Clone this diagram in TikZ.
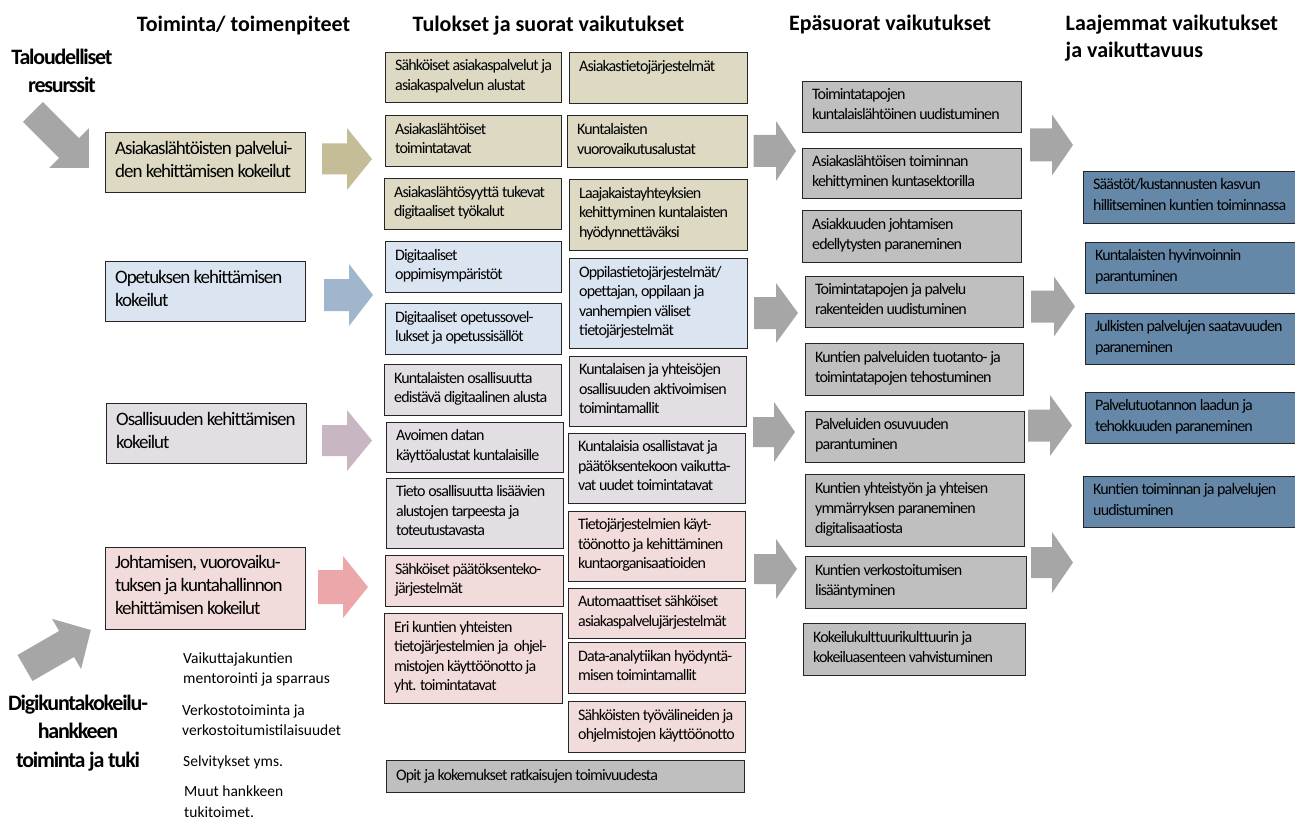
\documentclass[tikz,border=0pt]{standalone}
\usepackage{fontspec}
\setmainfont{Carlito}[LetterSpace=-5.5]
\newfontfamily\natfont{Carlito}
\definecolor{tanbox}{HTML}{DDD9C3}
\definecolor{tanarr}{HTML}{C4BD97}
\definecolor{bluebox}{HTML}{DBE5F1}
\definecolor{bluearr}{HTML}{9FB6CC}
\definecolor{mauvebox}{HTML}{E3DEE3}
\definecolor{mauvearr}{HTML}{C8B6C3}
\definecolor{pinkbox}{HTML}{F2DCDB}
\definecolor{pinkarr}{HTML}{EBA7A9}
\definecolor{graybox}{HTML}{BFBFBF}
\definecolor{grayarr}{HTML}{A6A6A6}
\definecolor{steel}{HTML}{6688A8}
\definecolor{edge}{HTML}{262626}
\tikzset{
  rbox/.style={draw=edge, line width=1.3pt, inner sep=0pt, rectangle},
  btxt/.style={fill=none, draw=none, inner sep=0pt, align=left,
    execute at begin node=\strut, execute at end node=\strut},
  cA/.style={font=\fontsize{19}{23}\selectfont},
  cB/.style={font=\fontsize{16}{19.5}\selectfont},
  cC/.style={font=\fontsize{16}{20}\selectfont},
  cD/.style={font=\fontsize{16}{21}\selectfont},
  hdr/.style={inner sep=0pt, font={\natfont\fontsize{22}{27}\selectfont\bfseries}},
  side/.style={inner sep=0pt, align=center, font={\fontsize{22}{28.5}\selectfont\bfseries}},
  small/.style={inner sep=0pt, align=left, font={\natfont\fontsize{15.5}{20.5}\selectfont}},
}
% style, name, x1, y1, x2, y2, text
\newcommand\rb[7]{%
  \pgfmathsetmacro\bw{#5-#3}\pgfmathsetmacro\bh{#6-#4}%
  \node[rbox,#1,minimum width=\bw pt,minimum height=\bh pt,anchor=north west] (#2) at (#3,#4) {};
  \node[#1,btxt,anchor=west] (#2t) at ([xshift=10pt]#2.west) {#7};}
% colour, x1, headbase, tip, yc, shaft half, head half
\newcommand\harr[7]{%
  \fill[#1] (#2,#5-#6) -- (#3,#5-#6) -- (#3,#5-#7) -- (#4,#5) -- (#3,#5+#7) -- (#3,#5+#6) -- (#2,#5+#6) -- cycle;}
\begin{document}
\begin{tikzpicture}[x=1pt,y=-1pt]
\fill[white] (0,0) rectangle (1295,821);
\useasboundingbox (0,0) rectangle (1295,821);

% headers (base anchor = baseline of the last line)
\node[hdr,anchor=base] (h1) at (243.5,31.5) {Toiminta/ toimenpiteet};
\node[hdr,anchor=base] (h2) at (548.5,31.5) {Tulokset ja suorat vaikutukset};
\node[hdr,anchor=base] (h3) at (890,30.5) {Epäsuorat vaikutukset};
\node[hdr,anchor=base west,align=left] (h4) at (1065.5,58) {Laajemmat vaikutukset\\ja vaikuttavuus};

% side labels
\node[side,anchor=base] (res) at (62,93) {Taloudelliset\\resurssit};
\node[side,anchor=base] (digi) at (78,767) {Digikuntakokeilu-\\hankkeen\\toiminta ja tuki};

% diagonal arrows
\begin{scope}[shift={(33,112)},rotate=-45]
  \fill[grayarr] (0,-14) -- (51,-14) -- (51,-28) -- (79,0) -- (51,28) -- (51,14) -- (0,14) -- cycle;
\end{scope}
\begin{scope}[shift={(25,668)},rotate=30]
  \fill[grayarr] (0,-15) -- (48,-15) -- (48,-29) -- (76,0) -- (48,29) -- (48,15) -- (0,15) -- cycle;
\end{scope}

% column 1
\rb{cA,fill=tanbox}{a1}{105}{132}{305}{192}{Asiakaslähtöisten palvelui-\\den kehittämisen kokeilut}
\rb{cA,fill=bluebox}{a2}{105}{261}{305}{321}{Opetuksen kehittämisen\\kokeilut}
\rb{cA,fill=mauvebox}{a3}{106}{403}{306}{463}{Osallisuuden kehittämisen\\kokeilut}
\rb{cA,fill=pinkbox}{a4}{105}{547}{305}{629}{Johtamisen, vuorovaiku-\\tuksen ja kuntahallinnon\\kehittämisen kokeilut}

\harr{tanarr}{322}{347}{372}{159}{15.5}{31}
\harr{bluearr}{324}{349}{373}{295}{16}{31}
\harr{mauvearr}{322}{347}{372}{440.5}{15.5}{30.5}
\harr{pinkarr}{318}{343}{368}{587}{17}{31}

% small texts
\node[small,anchor=base west] (s1) at (183,683.5) {Vaikuttajakuntien\\mentorointi ja sparraus};
\node[small,anchor=base west] (s2) at (182,735.5) {Verkostotoiminta ja\\verkostoitumistilaisuudet};
\node[small,anchor=base west] (s3) at (183,766) {Selvitykset yms.};
\node[small,anchor=base west] (s4) at (184,817) {Muut hankkeen\\tukitoimet.};

% column 2 left
\rb{cB,fill=tanbox}{b1}{385}{52}{561}{102}{Sähköiset asiakaspalvelut ja\\asiakaspalvelun alustat}
\rb{cB,fill=tanbox}{b2}{385}{115}{561}{166}{Asiakaslähtöiset\\toimintatavat}
\rb{cB,fill=tanbox}{b3}{384}{178}{561}{229}{Asiakaslähtösyyttä tukevat\\digitaaliset työkalut}
\rb{cB,fill=bluebox}{b4}{385}{241}{561}{292}{Digitaaliset\\oppimisympäristöt}
\rb{cB,fill=bluebox}{b5}{385}{303}{561}{354}{Digitaaliset opetussovel-\\lukset ja opetussisällöt}
\rb{cB,fill=mauvebox}{b6}{384}{364}{561}{415}{Kuntalaisten osallisuutta\\edistävä digitaalinen alusta}
\rb{cB,fill=mauvebox}{b7}{386}{422}{563}{472}{Avoimen datan\\käyttöalustat kuntalaisille}
\rb{cB,fill=mauvebox}{b8}{386}{478}{563}{548}{Tieto osallisuutta lisäävien\\alustojen tarpeesta ja\\toteutustavasta}
\rb{cB,fill=pinkbox}{b9}{385}{555}{563}{606}{Sähköiset päätöksenteko-\\järjestelmät}
\rb{cB,fill=pinkbox}{b10}{384}{613}{562}{703}{Eri kuntien yhteisten\\tietojärjestelmien ja\ \ ohjel-\\mistojen käyttöönotto ja\\yht. toimintatavat}

% column 2 right
\rb{cB,fill=tanbox}{c1}{569}{52}{747}{103}{Asiakastietojärjestelmät\\\mbox{}}
\rb{cB,fill=tanbox}{c2}{567}{115}{747}{167}{Kuntalaisten\\vuorovaikutusalustat}
\rb{cB,fill=tanbox}{c3}{569}{179}{747}{250}{Laajakaistayhteyksien\\kehittyminen kuntalaisten\\hyödynnettäväksi}
\rb{cB,fill=bluebox}{c4}{569}{258}{747}{348}{Oppilastietojärjestelmät/\\opettajan, oppilaan ja\\vanhempien väliset\\tietojärjestelmät}
\rb{cB,fill=mauvebox}{c5}{569}{356}{746}{426}{Kuntalaisen ja yhteisöjen\\osallisuuden aktivoimisen\\toimintamallit}
\rb{cB,fill=mauvebox}{c6}{568}{433}{745}{503}{Kuntalaisia osallistavat ja\\päätöksentekoon vaikutta-\\vat uudet toimintatavat}
\rb{cB,fill=pinkbox}{c7}{568}{511}{745}{581}{Tietojärjestelmien käyt-\\töönotto ja kehittäminen\\kuntaorganisaatioiden}
\rb{cB,fill=pinkbox}{c8}{568}{588}{745}{638}{Automaattiset sähköiset\\asiakaspalvelujärjestelmät}
\rb{cB,fill=pinkbox}{c9}{568}{642}{745}{693}{Data-analytiikan hyödyntä-\\misen toimintamallit}
\rb{cB,fill=pinkbox}{c10}{568}{701}{745}{752}{Sähköisten työvälineiden ja\\ohjelmistojen käyttöönotto}
\rb{cB,fill=graybox}{d1}{386}{760}{744}{792}{Opit ja kokemukset ratkaisujen toimivuudesta}

% arrows to column 3
\harr{grayarr}{753.5}{776}{796}{151}{16}{30}
\harr{grayarr}{754}{776}{798}{313}{16}{30}
\harr{grayarr}{753}{774}{795}{432}{15}{30}
\harr{grayarr}{754}{776}{797}{569}{15}{30}

% column 3
\rb{cC,fill=graybox}{e1}{802}{81}{1021}{132}{Toimintatapojen\\kuntalaislähtöinen uudistuminen}
\rb{cC,fill=graybox}{e2}{802}{148}{1021}{198}{Asiakaslähtöisen toiminnan\\kehittyminen kuntasektorilla}
\rb{cC,fill=graybox}{e3}{802}{210}{1021}{262}{Asiakkuuden johtamisen\\edellytysten paraneminen}
\rb{cC,fill=graybox}{e4}{805}{276}{1023}{327}{Toimintatapojen ja palvelu\\rakenteiden uudistuminen}
\rb{cC,fill=graybox}{e5}{805}{343}{1023}{395}{Kuntien palveluiden tuotanto- ja\\toimintatapojen tehostuminen}
\rb{cC,fill=graybox}{e6}{805}{411}{1024}{462}{Palveluiden osuvuuden\\parantuminen}
\rb{cC,fill=graybox}{e7}{805}{474}{1024}{546}{Kuntien yhteistyön ja yhteisen\\ymmärryksen paraneminen\\digitalisaatiosta}
\rb{cC,fill=graybox}{e8}{805}{556}{1026}{608}{Kuntien verkostoitumisen\\lisääntyminen}
\rb{cC,fill=graybox}{e9}{803}{623}{1025}{675}{Kokeilukulttuurikulttuurin ja\\kokeiluasenteen vahvistuminen}

% arrows to column 4
\harr{grayarr}{1030}{1052}{1073}{145}{16.5}{30.5}
\harr{grayarr}{1031}{1054}{1075}{306.5}{16}{30}
\harr{grayarr}{1028}{1050}{1072}{425.5}{16}{30.5}
\harr{grayarr}{1031}{1052}{1073}{562.5}{15.5}{30.5}

% column 4
\rb{cD,fill=steel}{f1}{1083}{171}{1300}{223}{Säästöt/kustannusten kasvun\\hillitseminen kuntien toiminnassa}
\rb{cD,fill=steel}{f2}{1085}{242}{1300}{293}{Kuntalaisten hyvinvoinnin\\parantuminen}
\rb{cD,fill=steel}{f3}{1085}{313}{1300}{364}{Julkisten palvelujen saatavuuden\\paraneminen}
\rb{cD,fill=steel}{f4}{1085}{392}{1300}{443}{Palvelutuotannon laadun ja\\tehokkuuden paraneminen}
\rb{cD,fill=steel}{f5}{1083}{476}{1300}{527}{Kuntien toiminnan ja palvelujen\\uudistuminen}
\end{tikzpicture}
\end{document}
